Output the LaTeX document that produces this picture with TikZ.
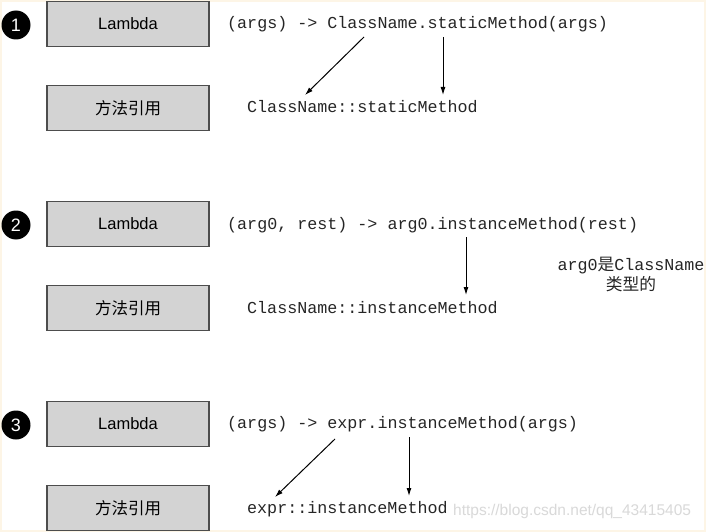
\documentclass[tikz,border=0pt]{standalone}
\usepackage{fontspec}
\setmainfont{Liberation Sans}
\newfontfamily\codefont{Liberation Mono}
\newfontfamily\cjkfont{Noto Sans CJK SC}
\usetikzlibrary{arrows.meta}

\definecolor{framecol}{HTML}{FDF5E6}
\definecolor{boxfill}{HTML}{D3D3D3}
\definecolor{boxline}{HTML}{4D4D4D}

\tikzset{
  refbox/.style={draw=boxline, fill=boxfill, line width=1.2pt, minimum width=162pt,
    minimum height=45pt, inner sep=0pt, font=\fontsize{16.5}{20}\selectfont},
  code/.style={anchor=base west, inner sep=0pt, text=black!85, font=\codefont\fontsize{16.7}{20}\selectfont},
  numdot/.style={circle, fill=black, text=white, minimum size=29pt, inner sep=0pt,
    font=\fontsize{18}{20}\selectfont},
  arr/.style={-{Latex[length=8pt,width=5pt]}, line width=1pt},
}

\begin{document}
\begin{tikzpicture}[x=1pt,y=-1pt]

        %background frame
        \useasboundingbox (0,0) rectangle (706,532);
        \fill[framecol] (0,0) rectangle (706,532);
        \fill[white] (2,2) rectangle (704,530);

        %Case 1: static method
        \node[numdot] (n1) at (16,25) {1};
        \node[refbox] (lam1) at (128,24) {Lambda};
        \node[refbox] (ref1) at (128,108) {\cjkfont 方法引用};
        \node[code] (src1) at (227,29) {(args) -> ClassName.staticMethod(args)};
        \node[code] (dst1) at (247,113) {ClassName::staticMethod};
        \coordinate (a1s) at (364,37);
        \coordinate (a1e) at (305,95);
        \coordinate (b1s) at (443,37);
        \coordinate (b1e) at (443,95);
        \draw[arr] (a1s) -- (a1e);
        \draw[arr] (b1s) -- (b1e);

        %Case 2: instance method of an argument
        \node[numdot] (n2) at (16,225) {2};
        \node[refbox] (lam2) at (128,224) {Lambda};
        \node[refbox] (ref2) at (128,308) {\cjkfont 方法引用};
        \node[code] (src2) at (227,229) {(arg0, rest) -> arg0.instanceMethod(rest)};
        \node[code] (dst2) at (247,313) {ClassName::instanceMethod};
        \coordinate (b2s) at (466,237);
        \coordinate (b2e) at (466,295);
        \draw[arr] (b2s) -- (b2e);
        \node[inner sep=0pt, align=center, text=black!85, font=\codefont\fontsize{16.7}{20}\selectfont] (note2) at (631,274)
            {arg0{\cjkfont 是}ClassName\\{\cjkfont 类型的}};

        %Case 3: instance method of an expression
        \node[numdot] (n3) at (16,425) {3};
        \node[refbox] (lam3) at (128,424) {Lambda};
        \node[refbox] (ref3) at (128,508) {\cjkfont 方法引用};
        \node[code] (src3) at (227,428) {(args) -> expr.instanceMethod(args)};
        \node[code] (dst3) at (247,513) {expr::instanceMethod};
        \coordinate (a3s) at (335,439);
        \coordinate (a3e) at (275,497);
        \coordinate (b3s) at (409,437);
        \coordinate (b3e) at (409,496);
        \draw[arr] (a3s) -- (a3e);
        \draw[arr] (b3s) -- (b3e);

        %watermark
        \node[anchor=base west, inner sep=0pt, text=black!15, font=\fontsize{15.5}{18}\selectfont] (wm) at (453,515)
            {https://blog.csdn.net/qq\_43415405};

\end{tikzpicture}
\end{document}
